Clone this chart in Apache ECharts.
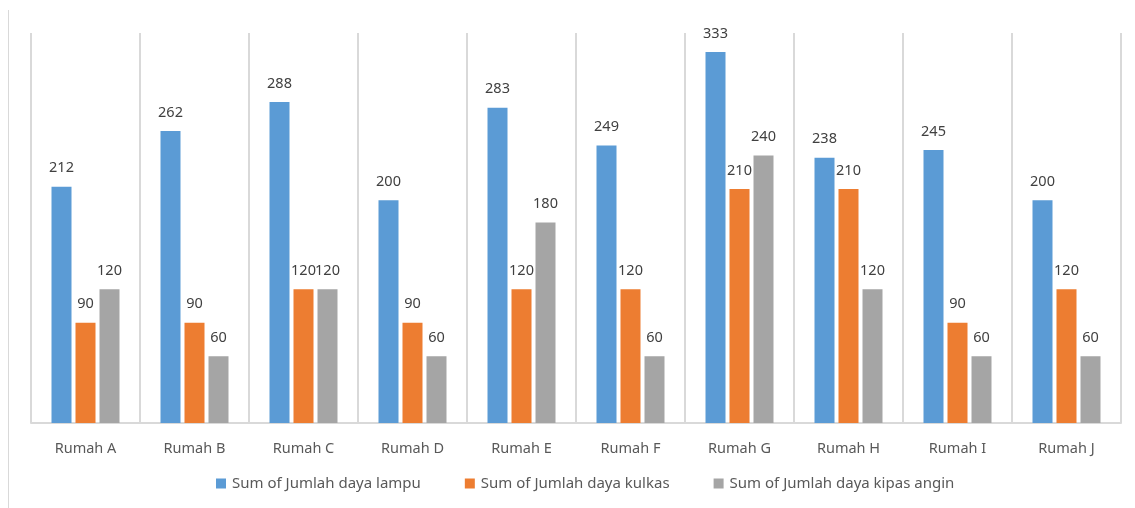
<!DOCTYPE html>
<html>
<head>
<meta charset="utf-8">
<script src="https://cdn.jsdelivr.net/npm/echarts@6/dist/echarts.min.js"></script>
<style>
  html,body{margin:0;padding:0;background:#fff;}
  #chart{width:1135px;height:508px;}
  .frame{position:absolute;left:8px;top:10px;width:0;height:498px;border-left:1px solid #d9d9d9;}
</style>
</head>
<body>
<div class="frame"></div>
<div id="chart"></div>
<script>
// data
const rumah = ['Rumah A','Rumah B','Rumah C','Rumah D','Rumah E','Rumah F','Rumah G','Rumah H','Rumah I','Rumah J'];
const lampu = [212,262,288,200,283,249,333,238,245,200];
const kulkas = [90,90,120,90,120,120,210,210,90,120];
const kipas = [120,60,120,60,180,60,240,120,60,60];
const seriesNames = ['Sum of Jumlah daya lampu','Sum of Jumlah daya kulkas','Sum of Jumlah daya kipas angin'];
const colors = ['#5B9BD5','#ED7D31','#A5A5A5'];

const chart = echarts.init(document.getElementById('chart'));
const font = 'Noto Sans';

function bar(name, data, color){
  return {
    name: name,
    type: 'bar',
    data: data,
    barWidth: 20,
    barGap: '20%',
    itemStyle: {color: color},
    label: {
      show: true,
      position: 'top',
      distance: 11,
      color: '#404040',
      fontSize: 14.5,
      fontFamily: font
    }
  };
}

const option = {
  animation: false,
  grid: {left: 31, right: 14, top: 33, bottom: 85},
  legend: {
    bottom: 12,
    left: 211,
    icon: 'rect',
    itemWidth: 10,
    itemHeight: 10,
    itemGap: 44,
    textStyle: {color: '#595959', fontSize: 15, fontFamily: font, padding: [0,0,0,1]},
    data: seriesNames
  },
  xAxis: {
    type: 'category',
    data: rumah,
    boundaryGap: true,
    axisLine: {lineStyle: {color: '#d9d9d9', width: 2}},
    axisTick: {show: false},
    axisLabel: {color: '#595959', fontSize: 14.5, fontFamily: font, margin: 18},
    splitLine: {show: true, lineStyle: {color: '#d9d9d9', width: 2}}
  },
  yAxis: {
    type: 'value',
    min: 0,
    max: 350,
    show: false,
    splitLine: {show: false}
  },
  series: [
    bar(seriesNames[0], lampu, colors[0]),
    bar(seriesNames[1], kulkas, colors[1]),
    bar(seriesNames[2], kipas, colors[2])
  ]
};
chart.setOption(option);
</script>
</body>
</html>
